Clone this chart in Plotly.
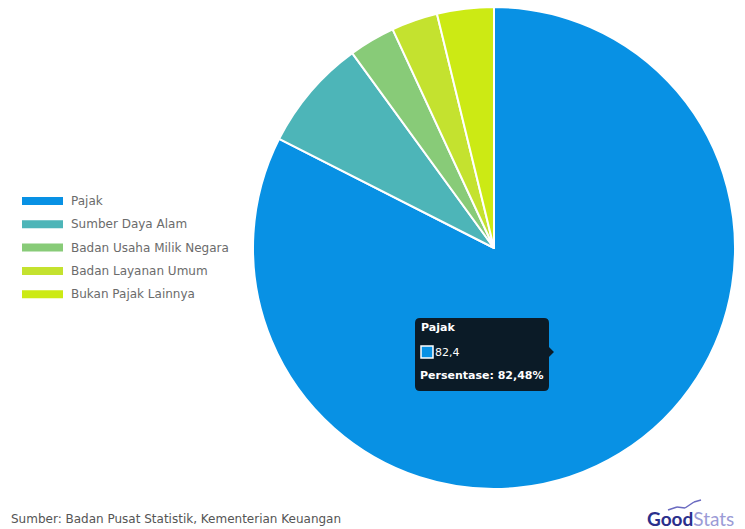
import plotly.graph_objects as go

categories = ["Pajak", "Sumber Daya Alam", "Badan Usaha Milik Negara", "Badan Layanan Umum", "Bukan Pajak Lainnya"]
values = [82.4, 7.5, 3.1, 3.1, 3.8]
colors = ["#0891E4", "#4DB5B8", "#88CB78", "#C4E22F", "#CCEA14"]
source_text = "Sumber: Badan Pusat Statistik, Kementerian Keuangan"
tooltip_name = "Pajak"
tooltip_value = "82,4"
tooltip_pct = "Persentase: 82,48%"

W, H = 745, 529
FONT = "DejaVu Sans"

fig = go.Figure(go.Pie(
    labels=categories, values=values, sort=False, direction="clockwise", rotation=0,
    marker=dict(colors=colors, line=dict(color="white", width=2)),
    textinfo="none", hoverinfo="label+value+percent", showlegend=False,
    domain=dict(x=[253/W, 735/W], y=[(H-489)/H, (H-7)/H]),
))

shapes = []
annotations = []

# custom legend (wide colour bars)
lx, ly0, dy = 22, 201, 23.3
for i, (c, lab) in enumerate(zip(colors, categories)):
    y = ly0 + i*dy
    shapes.append(dict(type="rect", xref="paper", yref="paper",
                       x0=lx/W, x1=(lx+41)/W, y0=(H-y-4)/H, y1=(H-y+4)/H,
                       fillcolor=c, line=dict(width=0)))
    annotations.append(dict(text=lab, x=(lx+47)/W, y=(H-y)/H, xref="paper", yref="paper",
                            xanchor="left", yanchor="middle", showarrow=False,
                            font=dict(family=FONT, size=12, color="#6b6b6b")))

# tooltip box
bx0, bx1, by0, by1, r = 415, 549, 318, 391, 5
ay = 352
path = (f"M {bx0+r},{by0} L {bx1-r},{by0} Q {bx1},{by0} {bx1},{by0+r} "
        f"L {bx1},{ay-5} L {bx1+5},{ay} L {bx1},{ay+5} "
        f"L {bx1},{by1-r} Q {bx1},{by1} {bx1-r},{by1} L {bx0+r},{by1} Q {bx0},{by1} {bx0},{by1-r} "
        f"L {bx0},{by0+r} Q {bx0},{by0} {bx0+r},{by0} Z")
def conv(p):
    out = []
    for tok in p.split():
        if "," in tok:
            x, y = tok.split(",")
            out.append(f"{float(x)/W:.5f},{(H-float(y))/H:.5f}")
        else:
            out.append(tok)
    return " ".join(out)
shapes.append(dict(type="path", xref="paper", yref="paper", path=conv(path),
                   fillcolor="#0B1B27", line=dict(width=0)))
shapes.append(dict(type="rect", xref="paper", yref="paper",
                   x0=421/W, x1=433/W, y0=(H-358)/H, y1=(H-346)/H,
                   fillcolor=colors[0], line=dict(color="white", width=1.5)))
annotations += [
    dict(text=f"<b>{tooltip_name}</b>", x=419/W, y=(H-328)/H, xref="paper", yref="paper",
         xanchor="left", yanchor="middle", showarrow=False,
         font=dict(family=FONT, size=11, color="white")),
    dict(text=tooltip_value, x=433/W, y=(H-352)/H, xref="paper", yref="paper",
         xanchor="left", yanchor="middle", showarrow=False,
         font=dict(family=FONT, size=11, color="white")),
    dict(text=f"<b>{tooltip_pct}</b>", x=418/W, y=(H-375)/H, xref="paper", yref="paper",
         xanchor="left", yanchor="middle", showarrow=False,
         font=dict(family=FONT, size=11, color="white")),
    dict(text=source_text, x=9/W, y=(H-519)/H, xref="paper", yref="paper",
         xanchor="left", yanchor="middle", showarrow=False,
         font=dict(family=FONT, size=12, color="#555555")),
    dict(text="<b>Good</b><span style='color:#9b9bd6'>Stats</span>", x=645/W, y=(H-518)/H,
         xref="paper", yref="paper", xanchor="left", yanchor="middle", showarrow=False,
         font=dict(family="Lato", size=19, color="#2B2F8C")),
]
pts = [(668, 510), (677, 507), (685, 508), (694, 502), (701, 500)]
for (x0, y0), (x1, y1) in zip(pts[:-1], pts[1:]):
    shapes.append(dict(type="line", xref="paper", yref="paper",
                       x0=x0/W, y0=(H-y0)/H, x1=x1/W, y1=(H-y1)/H,
                       line=dict(color="#6a6ac0", width=1.5)))

fig.update_layout(width=W, height=H, margin=dict(l=0, r=0, t=0, b=0),
                  paper_bgcolor="white", plot_bgcolor="white",
                  shapes=shapes, annotations=annotations, showlegend=False)
fig.write_html("out.html")
